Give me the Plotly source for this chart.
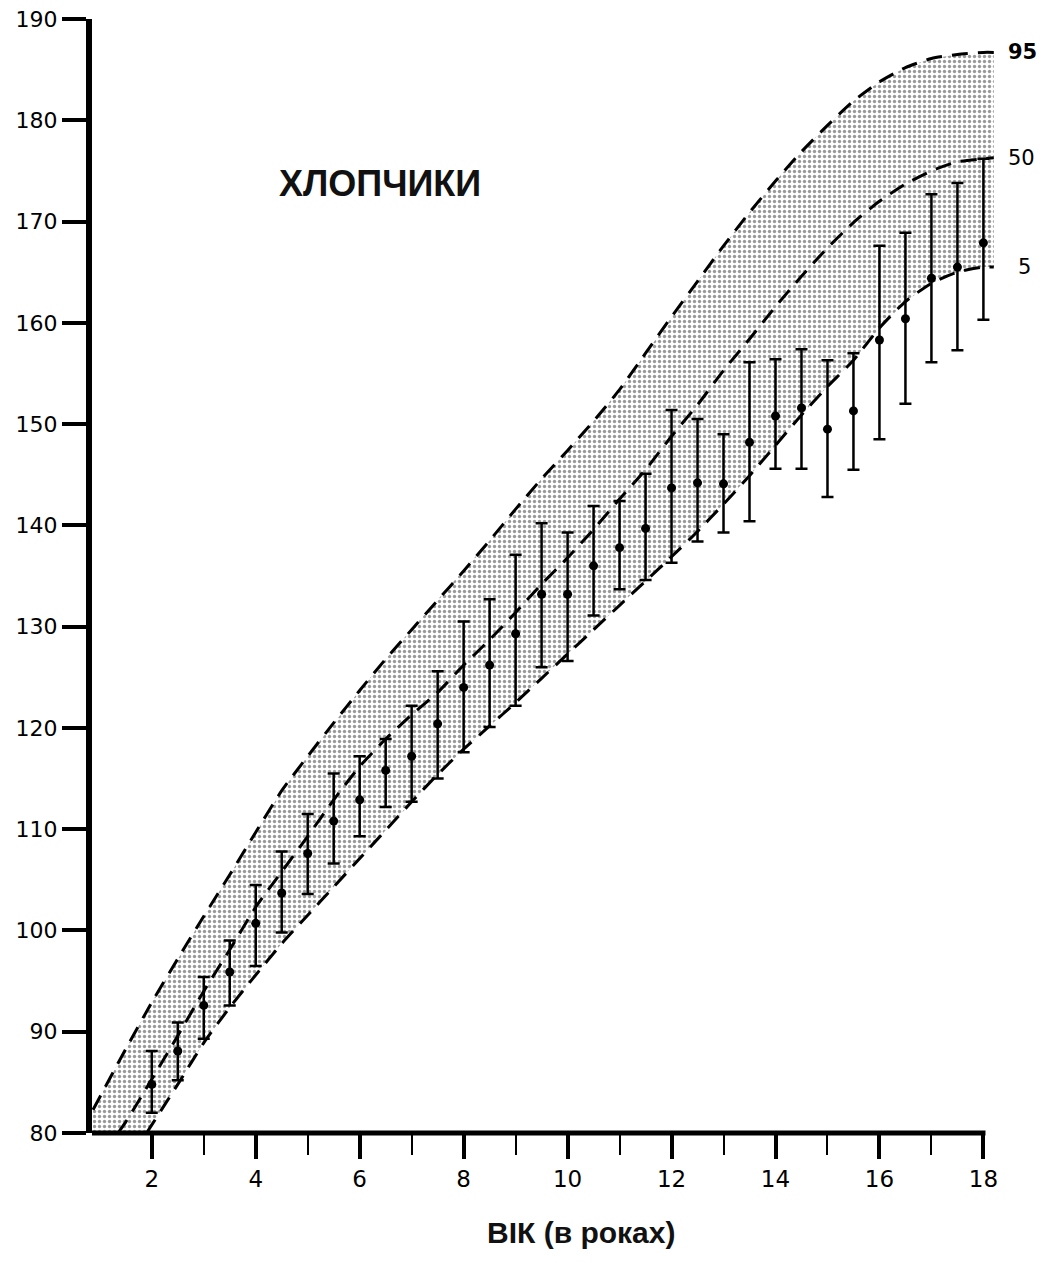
import plotly.graph_objects as go

# ---- measured points (age in years, height in cm) ----
ages = [2, 2.5, 3, 3.5, 4, 4.5, 5, 5.5, 6, 6.5, 7, 7.5, 8, 8.5, 9, 9.5, 10,
        10.5, 11, 11.5, 12, 12.5, 13, 13.5, 14, 14.5, 15, 15.5, 16, 16.5, 17, 17.5, 18]
mean_h = [84.8, 88.1, 92.6, 95.9, 100.7, 103.7, 107.6, 110.8, 112.9, 115.8, 117.2, 120.4,
          124.0, 126.2, 129.3, 133.2, 133.2, 136.0, 137.8, 139.7, 143.7, 144.2, 144.1,
          148.2, 150.8, 151.6, 149.5, 151.3, 158.3, 160.4, 164.4, 165.5, 167.9]
upper_h = [88.1, 90.9, 95.4, 99.0, 104.5, 107.8, 111.5, 115.5, 117.2, 118.9, 122.2, 125.6,
           130.5, 132.7, 137.1, 140.2, 139.3, 141.9, 142.4, 145.1, 151.4, 150.5, 149.0,
           156.1, 156.4, 157.4, 156.3, 157.0, 167.6, 168.9, 172.7, 173.8, 176.2]
lower_h = [82.0, 85.2, 89.3, 92.6, 96.5, 99.8, 103.6, 106.6, 109.3, 112.2, 112.7, 115.0,
           117.6, 120.1, 122.2, 126.0, 126.6, 131.1, 133.7, 134.6, 136.3, 138.4, 139.3,
           140.4, 145.6, 145.6, 142.8, 145.5, 148.5, 152.0, 156.1, 157.3, 160.3]

# ---- percentile curves ----
p95_x = [0.87, 1.5, 2, 2.5, 3, 3.5, 4, 4.5, 5, 5.5, 6, 6.5, 7, 7.5, 8, 8.5, 9, 9.5, 10,
         10.5, 11, 11.5, 12, 12.5, 13, 13.5, 14, 14.5, 15, 15.5, 16, 16.5, 17, 17.5, 18, 18.2]
p95_y = [82.3, 88.3, 92.9, 97.2, 101.4, 105.5, 109.7, 113.8, 117.2, 120.5, 123.7, 126.8,
         129.7, 132.6, 135.5, 138.5, 141.6, 144.6, 147.4, 150.3, 153.4, 157.0, 160.6,
         164.1, 167.6, 170.9, 174.0, 176.9, 179.5, 181.9, 183.8, 185.2, 186.1, 186.5, 186.7, 186.7]

p50_x = [1.35, 1.5, 2, 2.5, 3, 3.5, 4, 4.5, 5, 5.5, 6, 6.5, 7, 7.5, 8, 8.5, 9, 9.5, 10,
         10.5, 11, 11.5, 12, 12.5, 13, 13.5, 14, 14.5, 15, 15.5, 16, 16.5, 17, 17.5, 18, 18.2]
p50_y = [80.0, 81.1, 85.3, 89.6, 94.0, 98.1, 102.3, 105.8, 109.3, 112.9, 116.2, 118.9,
         121.3, 123.5, 126.2, 128.7, 131.4, 134.2, 136.8, 139.6, 142.6, 145.5, 148.8,
         151.9, 155.3, 158.4, 161.6, 164.6, 167.4, 169.9, 172.0, 173.7, 175.0, 175.9, 176.2, 176.3]

p5_x = [1.9, 2, 2.5, 3, 3.5, 4, 4.5, 5, 5.5, 6, 6.5, 7, 7.5, 8, 8.5, 9, 9.5, 10,
        10.5, 11, 11.5, 12, 12.5, 13, 13.5, 14, 14.5, 15, 15.5, 16, 16.5, 17, 17.5, 18, 18.2]
p5_y = [80.0, 80.8, 84.8, 88.9, 92.4, 95.6, 98.7, 101.5, 104.3, 107.1, 109.9, 112.7,
        115.4, 117.9, 120.2, 122.5, 124.9, 127.3, 129.7, 132.1, 134.5, 136.9, 139.4,
        142.1, 144.9, 147.9, 150.9, 153.7, 156.3, 159.5, 162.1, 163.9, 165.0, 165.5, 165.5]

pct_labels = ["<b>95</b>", "50", "5"]
x_ticks = [2, 4, 6, 8, 10, 12, 14, 16, 18]
x_minor = [3, 5, 7, 9, 11, 13, 15, 17]
y_ticks = [80, 90, 100, 110, 120, 130, 140, 150, 160, 170, 180, 190]

X_RANGE = [0.85, 18.3]
Y_RANGE = [80, 190]
label_xshift = [12, 12, 22]

fig = go.Figure()

# stippled band between 5th and 95th percentile
band_x = p95_x + p5_x[::-1] + [p95_x[0], p95_x[0]]
band_y = p95_y + p5_y[::-1] + [Y_RANGE[0], p95_y[0]]
fig.add_trace(go.Scatter(
    x=band_x, y=band_y, mode="lines", fill="toself",
    line=dict(width=0, color="rgba(0,0,0,0)"),
    fillcolor="rgba(0,0,0,0)",
    fillpattern=dict(shape=".", fgcolor="#333333", bgcolor="white", size=5, solidity=0.36),
    hoverinfo="skip", showlegend=False))

for cx, cy in [(p95_x, p95_y), (p50_x, p50_y), (p5_x, p5_y)]:
    fig.add_trace(go.Scatter(
        x=cx, y=cy, mode="lines",
        line=dict(color="black", width=3, dash="16px,10px", shape="spline", smoothing=0.6),
        hoverinfo="skip", showlegend=False))

err_plus = [u - m for u, m in zip(upper_h, mean_h)]
err_minus = [m - l for m, l in zip(mean_h, lower_h)]
fig.add_trace(go.Scatter(
    x=ages, y=mean_h, mode="markers",
    marker=dict(color="black", size=9),
    error_y=dict(type="data", symmetric=False, array=err_plus, arrayminus=err_minus,
                 color="black", thickness=2.5, width=6),
    showlegend=False, cliponaxis=False))

# percentile labels at the ends of the curves
for lab, cx, cy, xs in zip(pct_labels, [p95_x, p50_x, p5_x], [p95_y, p50_y, p5_y], label_xshift):
    fig.add_annotation(x=cx[-1], y=cy[-1], xref="x", yref="y", text=lab, showarrow=False,
                       xanchor="left", yanchor="middle", xshift=xs,
                       font=dict(family="DejaVu Sans", size=21, color="black"))

# title inside plot
fig.add_annotation(x=6.4, y=173.8, xref="x", yref="y", text="<b>ХЛОПЧИКИ</b>",
                   showarrow=False, font=dict(family="Liberation Sans", size=36, color="#111"))

# x-axis title
fig.add_annotation(x=10.26, y=-0.089, xref="x", yref="paper", text="<b>ВІК (в роках)</b>",
                   showarrow=False, yanchor="middle",
                   font=dict(family="Liberation Sans", size=30, color="#111"))

# x-axis baseline (ends at the last major tick)
x_end_frac = (x_ticks[-1] + 0.04 - X_RANGE[0]) / (X_RANGE[1] - X_RANGE[0])
fig.add_shape(type="line", xref="paper", yref="paper", x0=0, x1=x_end_frac, y0=0, y1=0,
              line=dict(color="black", width=5))

fig.update_layout(
    width=1040, height=1255,
    margin=dict(l=84, r=49, t=11, b=130),
    paper_bgcolor="white", plot_bgcolor="white",
    xaxis=dict(range=X_RANGE, showgrid=False, zeroline=False, showline=False, automargin=False,
               tickmode="array", tickvals=x_ticks, ticktext=[str(v) for v in x_ticks],
               ticks="outside", ticklen=25, tickwidth=4, tickcolor="black",
               minor=dict(tickmode="array", tickvals=x_minor, ticks="outside",
                          ticklen=21, tickwidth=2, tickcolor="black", showgrid=False),
               tickfont=dict(family="DejaVu Sans", size=23, color="black")),
    yaxis=dict(range=Y_RANGE, showgrid=False, zeroline=False, showline=True, automargin=False,
               linecolor="black", linewidth=6, ticklabeloverflow="allow",
               tickmode="array", tickvals=y_ticks,
               ticks="outside", ticklen=24, tickwidth=4, tickcolor="black",
               tickfont=dict(family="DejaVu Sans", size=22, color="black")),
)

fig.write_html("out.html")
